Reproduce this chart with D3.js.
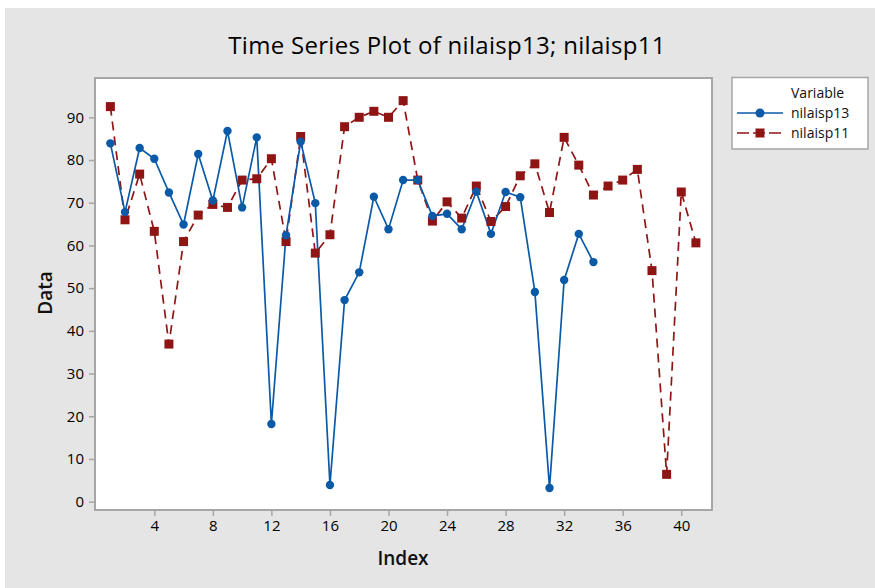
<!DOCTYPE html>
<html><head><meta charset="utf-8">
<script src="https://cdn.jsdelivr.net/npm/d3@7"></script>
<style>body{margin:0;background:#fff}svg{display:block}</style>
</head><body>
<svg id="c" width="875" height="588"></svg>
<script>
const titleText = "Time Series Plot of nilaisp13; nilaisp11";
const seriesNames = ["nilaisp13", "nilaisp11"];
const nilaisp13 = [83.9,67.8,82.8,80.3,72.4,64.9,81.4,70.5,86.8,68.9,85.3,18.2,62.4,84.3,69.9,3.9,47.2,53.7,71.4,63.8,75.3,75.3,66.9,67.4,63.8,72.6,62.7,72.5,71.3,49.1,3.2,51.9,62.7,56.1];
const nilaisp11 = [92.5,66.0,76.7,63.3,36.9,60.9,67.1,69.6,68.9,75.3,75.6,80.3,60.9,85.5,58.2,62.5,87.8,90.0,91.4,90.0,93.9,75.3,65.7,70.2,66.4,73.9,65.6,69.1,76.3,79.1,67.7,85.3,78.8,71.8,73.9,75.3,77.8,54.1,6.4,72.5,60.6];
const xTicks = [4,8,12,16,20,24,28,32,36,40];
const yTicks = [0,10,20,30,40,50,60,70,80,90];

const svg = d3.select("#c");
const font = "'Open Sans', 'Noto Sans', sans-serif";
const blue = "#0b5aa8", red = "#8f1515";
svg.append("rect").attr("x",5).attr("y",8).attr("width",870).attr("height",580).attr("fill","#e5e5e5");

const L=95, R=712, T=78, B=510;
const x = d3.scaleLinear().domain([-0.05,42.1]).range([L,R]);
const y = d3.scaleLinear().domain([-1.95,99.2]).range([B,T]);

svg.append("rect").attr("x",L).attr("y",T).attr("width",R-L).attr("height",B-T)
  .attr("fill","#fff").attr("stroke","#a6a6a6").attr("stroke-width",2);

const xa = svg.append("g").attr("transform",`translate(0,${B})`)
  .call(d3.axisBottom(x).tickValues(xTicks).tickSize(6).tickPadding(4).tickSizeOuter(0));
const ya = svg.append("g").attr("transform",`translate(${L},0)`)
  .call(d3.axisLeft(y).tickValues(yTicks).tickSize(6).tickPadding(5).tickSizeOuter(0));
[xa,ya].forEach(a=>{
  a.select(".domain").remove();
  a.selectAll(".tick line").attr("stroke","#a6a6a6").attr("stroke-width",1.5);
  a.selectAll(".tick text").attr("fill","#000").attr("font-size",15).attr("font-family",font);
});

svg.append("text").attr("x",447).attr("y",54).attr("text-anchor","middle")
  .attr("font-family",font).attr("font-size",24).attr("letter-spacing",0.3).attr("fill","#000").text(titleText);
svg.append("text").attr("x",403).attr("y",565).attr("text-anchor","middle")
  .attr("font-family",font).attr("font-size",19).attr("font-weight",600).attr("fill","#111").text("Index");
svg.append("text").attr("transform","translate(52,293) rotate(-90)").attr("text-anchor","middle")
  .attr("font-family",font).attr("font-size",19).attr("font-weight",600).attr("fill","#111").text("Data");

const line = d3.line().x((d,i)=>x(i+1)).y(d=>y(d));
const g = svg.append("g");
g.append("path").datum(nilaisp11).attr("d",line).attr("fill","none").attr("stroke",red)
  .attr("stroke-width",1.7).attr("stroke-dasharray","9,6");
g.append("path").datum(nilaisp13).attr("d",line).attr("fill","none").attr("stroke",blue).attr("stroke-width",1.7);
g.selectAll("rect.m").data(nilaisp11).join("rect").attr("class","m")
  .attr("x",(d,i)=>x(i+1)-4.5).attr("y",d=>y(d)-4.5).attr("width",9).attr("height",9).attr("fill",red);
g.selectAll("circle.m").data(nilaisp13).join("circle").attr("class","m")
  .attr("cx",(d,i)=>x(i+1)).attr("cy",d=>y(d)).attr("r",4.2).attr("fill",blue);

// legend
const lg = svg.append("g");
lg.append("rect").attr("x",732).attr("y",77.5).attr("width",136).attr("height",71.5)
  .attr("fill","#fff").attr("stroke","#a6a6a6").attr("stroke-width",1.5);
lg.append("text").attr("x",791).attr("y",98).attr("font-family",font).attr("font-size",14).attr("fill","#111").text("Variable");
const rows = [{n:seriesNames[0],c:blue,s:"circle"},{n:seriesNames[1],c:red,s:"square"}];
rows.forEach((r,i)=>{
  const yy = 113 + i*20;
  lg.append("line").attr("x1",737).attr("x2",783).attr("y1",yy).attr("y2",yy)
    .attr("stroke",r.c).attr("stroke-width",1.7).attr("stroke-dasharray", i?"12,4":null);
  if(r.s==="circle") lg.append("circle").attr("cx",760).attr("cy",yy).attr("r",4.5).attr("fill",r.c);
  else lg.append("rect").attr("x",755.5).attr("y",yy-4.5).attr("width",9).attr("height",9).attr("fill",r.c);
  lg.append("text").attr("x",791).attr("y",yy+5).attr("font-family",font).attr("font-size",14).attr("fill","#111").text(r.n);
});
</script>
</body></html>
